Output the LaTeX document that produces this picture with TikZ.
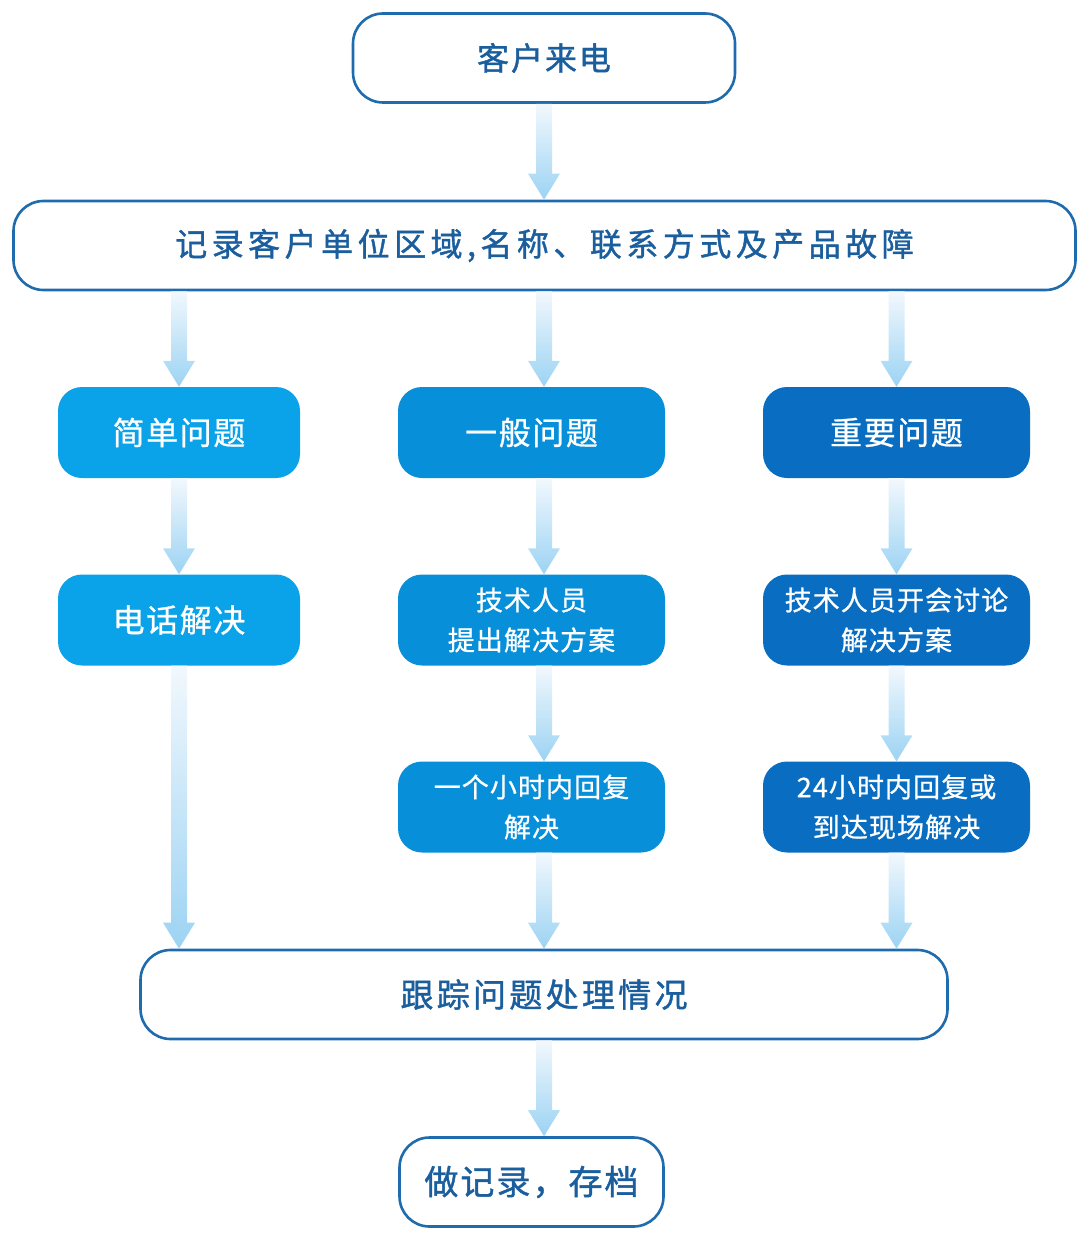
\documentclass[tikz,border=0pt]{standalone}
\usepackage{fontspec}
\setmainfont{Noto Sans CJK SC}
\newfontfamily\widefont[LetterSpace=6, FakeBold=1.2]{Noto Sans CJK SC}
\newfontfamily\spreadfont[LetterSpace=10, FakeBold=1.2]{Noto Sans CJK SC}
\newfontfamily\recfont[LetterSpace=14, FakeBold=1.2]{Noto Sans CJK SC}
\newfontfamily\headfont[LetterSpace=5, FakeBold=0.8]{Noto Sans CJK SC}
\newfontfamily\bodyfont[LetterSpace=4, FakeBold=0.8]{Noto Sans CJK SC}
\usetikzlibrary{calc}

\definecolor{lineblue}{HTML}{1E6BAD}
\definecolor{textblue}{HTML}{1A5E9E}
\definecolor{easyblue}{HTML}{0AA2E8}
\definecolor{midblue}{HTML}{088FDA}
\definecolor{deepblue}{HTML}{096DC1}
\definecolor{arrowtop}{HTML}{F2F8FD}
\definecolor{arrowbot}{HTML}{9CD3F3}

% fat shaded arrow between two points
\newcommand{\flowarrow}[2]{%
  \shade[top color=arrowtop, bottom color=arrowbot]
    let \p1=(#1), \p2=(#2) in
    ({\x1-8pt},\y1) -- ({\x1+8pt},\y1) -- ({\x1+8pt},{\y2+26pt})
    -- ({\x1+16pt},{\y2+26pt}) -- (\x1,\y2) -- ({\x1-16pt},{\y2+26pt})
    -- ({\x1-8pt},{\y2+26pt}) -- cycle;}

\begin{document}
\begin{tikzpicture}[
    x=1pt, y=-1pt,
    frame/.style={draw=lineblue, line width=2.6pt, fill=white, rounded corners=30pt,
        text=textblue, font=\widefont\fontsize{32}{38}\selectfont,
        minimum height=89pt, inner sep=0pt},
    tag/.style={rounded corners=24pt, text=white, minimum width=242pt, minimum height=91pt,
        inner sep=0pt, align=center, font=\headfont\fontsize{32}{38}\selectfont},
    step2/.style={tag, font=\bodyfont\fontsize{27}{40}\selectfont},
    easy/.style={fill=easyblue},
    normal/.style={fill=midblue, minimum width=267pt},
    urgent/.style={fill=deepblue, minimum width=267pt}
]
    \useasboundingbox (0,0) rectangle (1089,1241);

    % white frames
    \node[frame, minimum width=382pt] (call) at (544,58) {客户来电};
    \node[frame, minimum width=1062pt, font=\recfont\fontsize{32}{38}\selectfont] (rec) at (544.5,245.5) {记录客户单位区域,名称、联系方式及产品故障};
    \node[frame, minimum width=807pt, font=\spreadfont\fontsize{33}{38}\selectfont] (track) at (544,994.5) {跟踪问题处理情况};
    \node[frame, minimum width=264pt, font=\widefont\fontsize{34}{40}\selectfont] (arch) at (531.5,1182) {做记录，存档};

    % problem classes
    \node[tag, easy] (easy) at (179,432.5) {简单问题};
    \node[tag, normal] (gen) at (531.5,432.5) {一般问题};
    \node[tag, urgent] (imp) at (896.5,432.5) {重要问题};

    % handling steps
    \node[tag, easy] (phone) at (179,620) {电话解决};
    \node[step2, normal] (plan2) at (531.5,620) {技术人员\\提出解决方案};
    \node[step2, urgent] (plan3) at (896.5,620) {技术人员开会讨论\\解决方案};
    \node[step2, normal] (reply2) at (531.5,807) {一个小时内回复\\解决};
    \node[step2, urgent] (reply3) at (896.5,807) {24小时内回复或\\到达现场解决};

    % arrows
    \flowarrow{call.south}{rec.north -| call}
    \flowarrow{rec.south -| easy}{easy.north}
    \flowarrow{rec.south -| call}{gen.north -| call}
    \flowarrow{rec.south -| imp}{imp.north}
    \flowarrow{easy.south}{phone.north}
    \flowarrow{gen.south -| call}{plan2.north -| call}
    \flowarrow{imp.south}{plan3.north}
    \flowarrow{plan2.south -| call}{reply2.north -| call}
    \flowarrow{plan3.south}{reply3.north}
    \flowarrow{phone.south}{track.north -| phone}
    \flowarrow{reply2.south -| call}{track.north -| call}
    \flowarrow{reply3.south}{track.north -| reply3}
    \flowarrow{track.south}{arch.north -| track}
\end{tikzpicture}
\end{document}
